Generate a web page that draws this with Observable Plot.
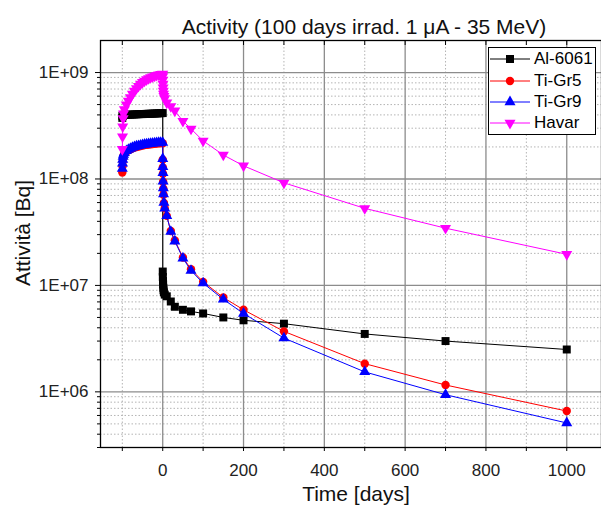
<!DOCTYPE html>
<html><head><meta charset="utf-8">
<script src="https://cdn.jsdelivr.net/npm/d3@7"></script>
<script src="https://cdn.jsdelivr.net/npm/@observablehq/plot@0.6"></script>
<style>
html,body{margin:0;padding:0;background:#fff;overflow:hidden;}
#wrap{position:relative;width:601px;height:508px;font-family:"Liberation Sans",Arial,sans-serif;}
#legend{position:absolute;left:488px;top:47px;width:108px;height:88px;border:1px solid #000;background:#fff;box-sizing:border-box;}
.row{position:absolute;left:0;height:20px;display:flex;align-items:center;font-size:17px;color:#000;white-space:nowrap;}
.row svg{display:block;margin-right:3px;}
</style></head><body><div id="wrap"><div id="legend"></div></div>
<script>
const title = "Activity (100 days irrad. 1 \u03bcA - 35 MeV)";
const xLabel = "Time [days]";
const yLabel = "Attivit\u00e0 [Bq]";
const seriesNames = ["Al-6061", "Ti-Gr5", "Ti-Gr9", "Havar"];
const seriesColors = ["#000000", "#ff0000", "#0000ff", "#ff00ff"];

const xMajorTicks = [0, 200, 400, 600, 800, 1000];
const xMinorTicks = [-100, 100, 300, 500, 700, 900];
const yMajorTicks = [1e6, 1e7, 1e8, 1e9];
const yMinorTicks = [3e5,4e5,5e5,6e5,7e5,8e5,9e5,
  2e6,3e6,4e6,5e6,6e6,7e6,8e6,9e6,
  2e7,3e7,4e7,5e7,6e7,7e7,8e7,9e7,
  2e8,3e8,4e8,5e8,6e8,7e8,8e8,9e8];

// irradiation phase (days before end of irradiation)
const irrDays = [-100,-99.5,-99,-98,-97,-95,-90,-85,-80,-75,-70,-65,-60,-55,-50,-45,-40,-35,-30,-25,-20,-15,-10,-5,0];
const al6061Irr = [3.75e8,3.9e8,3.95e8,3.98e8,4.0e8,4.0e8,4.0e8,4.01e8,4.02e8,4.03e8,4.04e8,4.05e8,4.06e8,4.07e8,4.07e8,4.08e8,4.09e8,4.1e8,4.1e8,4.11e8,4.12e8,4.13e8,4.14e8,4.15e8,4.16e8];
const tiGr5Irr = [1.15e8,1.32e8,1.46e8,1.57e8,1.65e8,1.73e8,1.81e8,1.86e8,1.9e8,1.94e8,1.97e8,2.0e8,2.02e8,2.04e8,2.06e8,2.08e8,2.09e8,2.11e8,2.12e8,2.13e8,2.14e8,2.15e8,2.16e8,2.17e8,2.17e8];
const tiGr9Irr = [1.25e8,1.4e8,1.52e8,1.62e8,1.7e8,1.76e8,1.84e8,1.89e8,1.93e8,1.97e8,2.0e8,2.03e8,2.05e8,2.07e8,2.09e8,2.11e8,2.12e8,2.14e8,2.15e8,2.16e8,2.17e8,2.18e8,2.19e8,2.2e8,2.2e8];
const havarIrr = [1.9e8,2.5e8,3.1e8,3.7e8,4.1e8,4.5e8,5.0e8,5.4e8,5.85e8,6.3e8,6.7e8,7.1e8,7.45e8,7.8e8,8.1e8,8.35e8,8.6e8,8.8e8,9.0e8,9.15e8,9.3e8,9.45e8,9.55e8,9.65e8,9.7e8];

// decay phase (days after end of irradiation)
const decayDays = [0.1,0.3,0.6,1,1.5,2,3,5,10,20,30,50,70,100,150,200,300,500,700,1000];
const al6061Decay = [1.35e7,1.2e7,1.1e7,1.02e7,9.5e6,9.0e6,8.6e6,8.2e6,7.9e6,7.06e6,6.3e6,5.9e6,5.7e6,5.45e6,5.0e6,4.7e6,4.37e6,3.5e6,3.0e6,2.5e6];
const tiGr5Decay = [1.52e8,1.28e8,1.12e8,9.4e7,8.1e7,7.1e7,5.95e7,5.3e7,4.5e7,3.25e7,2.65e7,1.83e7,1.42e7,1.08e7,7.7e6,5.9e6,3.7e6,1.84e6,1.16e6,6.6e5];
const tiGr9Decay = [1.55e8,1.3e8,1.14e8,9.5e7,8.2e7,7.2e7,6.0e7,5.3e7,4.5e7,3.2e7,2.6e7,1.8e7,1.38e7,1.05e7,7.4e6,5.45e6,3.2e6,1.54e6,9.4e5,5.1e5];
const havarDecay = [9.2e8,8.5e8,7.8e8,7.2e8,6.7e8,6.3e8,6.0e8,5.7e8,5.2e8,4.8e8,4.37e8,3.5e8,2.96e8,2.28e8,1.68e8,1.33e8,9.2e7,5.3e7,3.45e7,1.96e7];

const irrValues = [al6061Irr, tiGr5Irr, tiGr9Irr, havarIrr];
const decayValues = [al6061Decay, tiGr5Decay, tiGr9Decay, havarDecay];

const sqrt3 = Math.sqrt(3);
const triangleDown = {
  draw(context, size) {
    const y = -Math.sqrt(size / (sqrt3 * 3));
    context.moveTo(0, -y * 2);
    context.lineTo(sqrt3 * y, y);
    context.lineTo(-sqrt3 * y, y);
    context.closePath();
  }
};
const symbols = ["square", "circle", "triangle", triangleDown];
const d3symbols = [d3.symbolSquare, d3.symbolCircle, d3.symbolTriangle, triangleDown];
const radii = [4.5, 4.2, 4.1, 4.1];

const series = seriesNames.map((name, i) => {
  const rows = [];
  irrDays.forEach((t, j) => rows.push({t, v: irrValues[i][j]}));
  decayDays.forEach((t, j) => rows.push({t, v: decayValues[i][j]}));
  return rows;
});

const W = 601, H = 508, mT = 40, mB = 61, mL = 100, mR = 0;
const frameH = H - mT - mB;
const frameW = W - mL - mR;
const fmt = d => "1E+0" + Math.round(Math.log10(d));

const dataMarks = [];
series.forEach((rows, i) => {
  dataMarks.push(Plot.line(rows, {x: "t", y: "v", stroke: seriesColors[i], strokeWidth: 1}));
  dataMarks.push(Plot.dot(rows, {x: "t", y: "v", symbol: symbols[i], r: radii[i], fill: seriesColors[i], stroke: "none"}));
});

const plot = Plot.plot({
  width: W, height: H,
  marginTop: mT, marginBottom: mB, marginLeft: mL, marginRight: mR,
  style: {fontFamily: '"Liberation Sans", Arial, sans-serif', background: "white", color: "#000", overflow: "visible"},
  x: {domain: [-154, 1086]},
  y: {type: "log", domain: [3e5, 2e9]},
  marks: [
    Plot.ruleX(xMinorTicks, {x: d => d, stroke: "#b4b4b4", strokeDasharray: "1.5,2"}),
    Plot.ruleY(yMinorTicks, {y: d => d, stroke: "#b4b4b4", strokeDasharray: "1.5,2"}),
    Plot.ruleX(xMajorTicks, {x: d => d, stroke: "#8c8c8c", strokeWidth: 1.3}),
    Plot.ruleY(yMajorTicks, {y: d => d, stroke: "#8c8c8c", strokeWidth: 1.3}),
    ...dataMarks,
    Plot.axisX({ticks: xMajorTicks, tickSize: 4, tickPadding: 12, fontSize: 17, fill: "#222", tickFormat: d => String(d), label: null}),
    // minor bottom ticks (outward) and top ticks (inward)
    Plot.ruleX(xMinorTicks, {x: d => d, insetTop: frameH, insetBottom: -4, stroke: "#000"}),
    Plot.ruleX(xMajorTicks.concat(xMinorTicks), {x: d => d, insetBottom: frameH - 5, stroke: "#000"}),
    Plot.axisY({ticks: yMajorTicks, tickSize: 5, tickPadding: 7, fontSize: 17, fill: "#222", tickFormat: fmt, label: null}),
    Plot.ruleY(yMinorTicks, {y: d => d, insetLeft: -3, insetRight: frameW, stroke: "#000"}),
    Plot.frame({stroke: "#000", strokeWidth: 1.3}),
    Plot.text([title], {text: d => d, frameAnchor: "top", textAnchor: "middle", dx: 13, dy: -21, fontSize: 21, fill: "#111"}),
    Plot.text([xLabel], {text: d => d, frameAnchor: "bottom", textAnchor: "middle", dx: 5, dy: 53, fontSize: 21, fill: "#111"}),
    Plot.text([yLabel], {text: d => d, frameAnchor: "left", textAnchor: "middle", rotate: -90, dx: -77, dy: -11, fontSize: 21, fill: "#111"})
  ]
});
const wrap = document.getElementById("wrap");
wrap.insertBefore(plot, wrap.firstChild);

// legend
const legend = document.getElementById("legend");
const rowTops = [1, 22.5, 44, 65];
seriesNames.forEach((name, i) => {
  const row = document.createElement("div");
  row.className = "row";
  row.style.top = rowTops[i] + "px";
  const size = Math.PI * radii[i] * radii[i];
  const path = d3.symbol(d3symbols[i], size)();
  row.innerHTML = `<svg width="42" height="20"><line x1="1" x2="41" y1="10" y2="10" stroke="${seriesColors[i]}" stroke-width="1"/><path transform="translate(21,10)" d="${path}" fill="${seriesColors[i]}"/></svg><span>${name}</span>`;
  legend.appendChild(row);
});
</script>
</body></html>
